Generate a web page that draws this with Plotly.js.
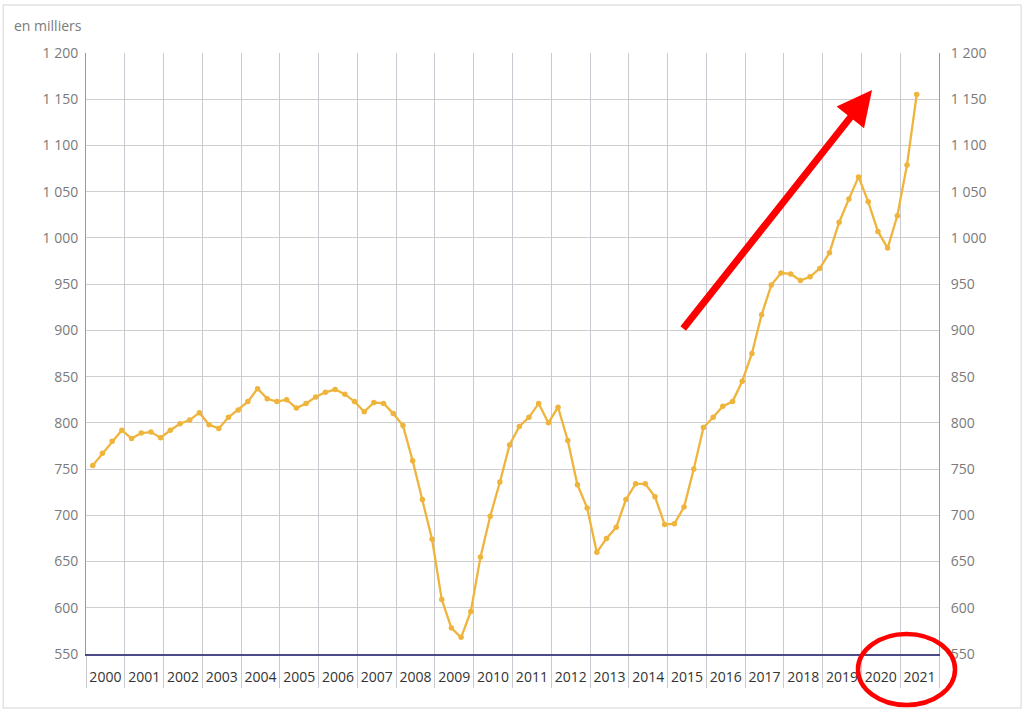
<!DOCTYPE html>
<html>
<head>
<meta charset="utf-8">
<script src="https://cdn.plot.ly/plotly-3.0.1.min.js"></script>
<style>
html,body{margin:0;padding:0;background:#fff;}
#chart{width:1028px;height:714px;}
</style>
</head>
<body>
<div id="chart"></div>
<script>
// Quarterly data, 2000 Q1 to 2021 Q2 (en milliers)
const startYear = 2000;
const yearLabels = ["2000","2001","2002","2003","2004","2005","2006","2007","2008","2009","2010",
  "2011","2012","2013","2014","2015","2016","2017","2018","2019","2020","2021"];
const values = [
  754, 767, 780, 792,      // 2000
  783, 789, 790, 784,      // 2001
  792, 799, 803, 811,      // 2002
  798, 794, 806, 814,      // 2003
  823, 837, 826, 823,      // 2004
  825, 816, 821, 828,      // 2005
  833, 836, 831, 823,      // 2006
  812, 822, 821, 810,      // 2007
  797, 759, 717, 674,      // 2008
  609, 578, 568, 596,      // 2009
  655, 699, 736, 776,      // 2010
  796, 806, 821, 800,      // 2011
  817, 781, 733, 708,      // 2012
  660, 675, 687, 717,      // 2013
  734, 734, 720, 690,      // 2014
  691, 709, 750, 795,      // 2015
  806, 818, 823, 845,      // 2016
  875, 917, 949, 962,      // 2017
  961, 954, 958, 967,      // 2018
  984, 1017, 1042, 1066,   // 2019
  1039, 1007, 989, 1024,   // 2020
  1079, 1155               // 2021
];
const yTicks = [550,600,650,700,750,800,850,900,950,1000,1050,1100,1150,1200];

// position of each quarter: centre of the quarter within its year
const xs = values.map((v,i)=> startYear + Math.floor(i/4) + ((i%4)+0.5)/4 + 0.05);
const yearCentres = yearLabels.map((l,i)=> startYear + i + 0.5);
const yearBounds = yearLabels.map((l,i)=> startYear + i).concat([startYear + yearLabels.length]);

const lineColor = '#EFB43C';

const trace = {
  x: xs, y: values, type: 'scatter', mode: 'lines+markers',
  line: {color: lineColor, width: 2.3},
  marker: {color: lineColor, size: 5.5},
  hoverinfo: 'y', showlegend: false
};
const trace2 = {
  x: [xs[0]], y: [values[0]], yaxis: 'y2', type: 'scatter', mode: 'markers',
  marker: {opacity: 0}, hoverinfo: 'skip', showlegend: false
};

const yRange = [550, 1200];
const tickFont = {family: 'Open Sans, sans-serif', size: 14, color: '#7a7a7a'};

const layout = {
  width: 1028, height: 714,
  margin: {l: 86, r: 89, t: 53, b: 60},
  paper_bgcolor: '#ffffff', plot_bgcolor: '#ffffff',
  separators: ', ',
  xaxis: {
    range: [startYear, startYear + yearLabels.length],
    tickmode: 'array', tickvals: yearCentres, ticktext: yearLabels,
    ticks: '', showgrid: false, zeroline: false,
    showline: true, linecolor: '#4b4a86', linewidth: 2,
    ticklabelstandoff: 9,
    tickfont: {family: 'Open Sans, sans-serif', size: 14, color: '#333333'},
    minor: {tickmode: 'array', tickvals: yearBounds, showgrid: true,
            gridcolor: '#c9c9d2', gridwidth: 1, ticks: 'outside', ticklen: 32,
            tickcolor: '#c9c9d2', tickwidth: 1},
    fixedrange: true
  },
  yaxis: {
    range: yRange, tickmode: 'array', tickvals: yTicks, tickformat: ',d',
    showgrid: true, gridcolor: '#cfcfcf', gridwidth: 1, zeroline: false,
    showline: true, linecolor: '#9a9a9a', linewidth: 1,
    ticks: '', ticklabelstandoff: 4, tickfont: tickFont, fixedrange: true
  },
  yaxis2: {
    range: yRange, overlaying: 'y', side: 'right',
    tickmode: 'array', tickvals: yTicks, tickformat: ',d',
    showgrid: false, zeroline: false,
    showline: true, linecolor: '#9a9a9a', linewidth: 1,
    ticks: '', ticklabelstandoff: 8, tickfont: tickFont, fixedrange: true
  },
  annotations: [
    {text: 'en milliers', xref: 'paper', yref: 'paper', x: -0.087, y: 1.027,
     xanchor: 'left', yanchor: 'bottom', showarrow: false,
     font: {family: 'Open Sans, sans-serif', size: 14, color: '#7a7a7a'}},
    {xref: 'paper', yref: 'paper', x: 0.9215, y: 0.9384, text: '',
     showarrow: true, arrowhead: 2, arrowsize: 1, arrowwidth: 7, arrowcolor: '#ff0000',
     ax: -190, ay: 240, axref: 'pixel', ayref: 'pixel', standoff: 0}
  ],
  shapes: [
    {type: 'rect', xref: 'paper', yref: 'paper',
     x0: -0.097, x1: 1.0963, y0: -0.090, y1: 1.080,
     line: {color: '#e3e3e3', width: 1.5}, layer: 'below'},
    {type: 'circle', xref: 'paper', yref: 'paper',
     x0: 0.905, x1: 1.0188, y0: -0.0849, y1: 0.0333,
     line: {color: '#ff0000', width: 4.5}, layer: 'above'}
  ]
};

Plotly.newPlot('chart', [trace, trace2], layout, {displayModeBar: false, staticPlot: true});
</script>
</body>
</html>
